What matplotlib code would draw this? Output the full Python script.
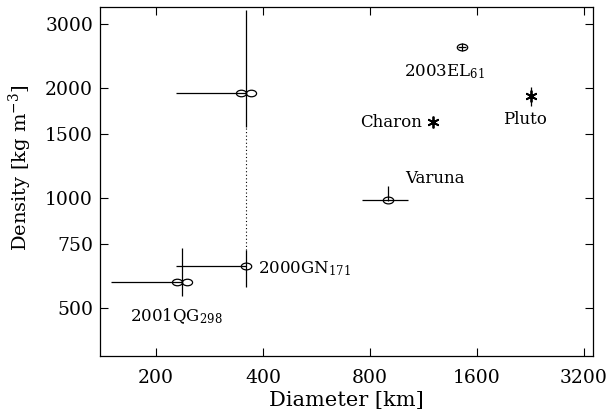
import matplotlib
matplotlib.use("Agg")
import matplotlib.pyplot as plt
from matplotlib.path import Path
import numpy as np

plt.rcParams["font.family"] = "DejaVu Serif"
plt.rcParams["mathtext.fontset"] = "dejavuserif"

# ellipsoid-model objects (single ellipse marker)
ell_names = ["2000GN171", "Varuna", "2003EL61"]
ell_diam = [359, 900, 1455]
ell_dens = [651, 990, 2590]
ell_xerr_lo = [131, 140, 40]
ell_xerr_hi = [0, 124, 40]
ell_yerr_lo = [81, 10, 70]
ell_yerr_hi = [69, 90, 70]

# contact-binary-model objects (double ellipse marker)
bin_names = ["2001QG298", "2000GN171"]
bin_diam = [237, 359]
bin_dens = [589, 1940]
bin_xerr_lo = [88, 131]
bin_xerr_hi = [0, 0]
bin_yerr_lo = [50, 375]
bin_yerr_hi = [140, 1334]

# satellites / dwarf planets (asterisk marker)
star_names = ["Charon", "Pluto"]
star_diam = [1206, 2274]
star_dens = [1615, 1900]
star_yerr = [0, 115]

# two 2000GN171 solutions joined by a dotted line
link_diam = [359, 359]
link_dens = [720, 1565]

xticks = [200, 400, 800, 1600, 3200]
yticks = [500, 750, 1000, 1500, 2000, 3000]

# custom markers
circ = Path.unit_circle()
ell_marker = Path(circ.vertices * [1.0, 0.65], circ.codes)
left = Path(circ.vertices * [1.0, 0.65] + [-1.0, 0.0], circ.codes)
right = Path(circ.vertices * [1.0, 0.65] + [1.0, 0.0], circ.codes)
bin_marker = Path.make_compound_path(left, right)

fig = plt.figure(figsize=(6.1, 4.15), dpi=100)
ax = fig.add_axes([0.164, 0.142, 0.808, 0.841])
ax.set_xscale("log")
ax.set_yscale("log")

lw = 0.9
ax.plot(link_diam, link_dens, linestyle=(0, (1, 2.2)), color="black", lw=0.8)

ax.errorbar(ell_diam, ell_dens, xerr=[ell_xerr_lo, ell_xerr_hi],
            yerr=[ell_yerr_lo, ell_yerr_hi], fmt="none", ecolor="black",
            elinewidth=lw, capsize=0)
ax.plot(ell_diam, ell_dens, linestyle="none", marker=ell_marker, markersize=7.5,
        mfc="none", mec="black", mew=0.9)

ax.errorbar(bin_diam, bin_dens, xerr=[bin_xerr_lo, bin_xerr_hi],
            yerr=[bin_yerr_lo, bin_yerr_hi], fmt="none", ecolor="black",
            elinewidth=lw, capsize=0)
ax.plot(bin_diam, bin_dens, linestyle="none", marker=bin_marker, markersize=14.5,
        mfc="none", mec="black", mew=0.9)

ax.errorbar(star_diam, star_dens, yerr=star_yerr, fmt="none", ecolor="black",
            elinewidth=lw, capsize=0)
ax.plot(star_diam, star_dens, linestyle="none", marker=(6, 2, 0), markersize=8.5,
        mec="black", mew=1.3)

fs = 12
ax.text(169, 475, r"2001QG$_{298}$", fontsize=fs, va="center", ha="left")
ax.text(388, 643, r"2000GN$_{171}$", fontsize=fs, va="center", ha="left")
ax.text(1006, 1134, "Varuna", fontsize=fs, va="center", ha="left")
ax.text(1122, 1615, "Charon", fontsize=fs, va="center", ha="right")
ax.text(2188, 1636, "Pluto", fontsize=fs, va="center", ha="center")
ax.text(998, 2214, r"2003EL$_{61}$", fontsize=fs, va="center", ha="left")

ax.set_xlim(139, 3400)
ax.set_ylim(370, 3330)
ax.set_xticks(xticks)
ax.set_xticklabels([str(t) for t in xticks])
ax.set_yticks(yticks)
ax.set_yticklabels([str(t) for t in yticks])
ax.minorticks_off()
ax.tick_params(which="major", direction="in", length=6, width=0.8,
               top=True, right=True, labelsize=13.5)
ax.tick_params(axis="x", pad=9)
ax.tick_params(axis="y", pad=5)
for s in ax.spines.values():
    s.set_linewidth(0.9)

ax.set_xlabel("Diameter [km]", fontsize=15, labelpad=3)
ax.set_ylabel(r"Density [kg m$^{-3}$]", fontsize=14)
ax.yaxis.set_label_coords(-0.134, 0.54)

fig.savefig("out.png", dpi=100)
